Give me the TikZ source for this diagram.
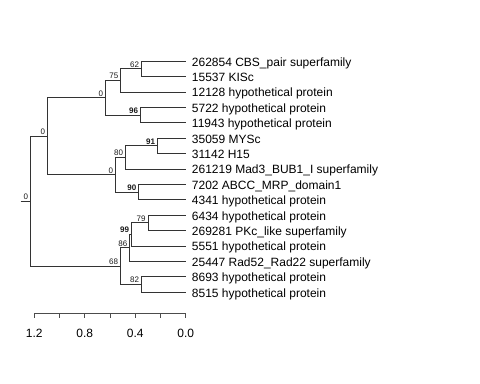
\documentclass[tikz,border=0pt]{standalone}
\usepackage{fontspec}
\setmainfont{Liberation Sans}
\usetikzlibrary{positioning,calc}
\colorlet{treeedge}{black!80}
\colorlet{axisedge}{black!70}

\begin{document}
\begin{tikzpicture}[x=0.75pt, y=-0.75pt,
    br/.style={draw=treeedge, line width=0.75pt},
    tiplab/.style={font=\fontsize{9}{11}\selectfont, anchor=base west, inner sep=0pt},
    nlab/.style={font=\fontsize{6}{7}\selectfont, text=black!90, anchor=south east,
                 inner xsep=1.8pt, inner ysep=1.1pt},
    blab/.style={nlab, font=\fontsize{6}{7}\selectfont\bfseries},
    ticklab/.style={font=\fontsize{9}{11}\selectfont, inner sep=0pt}
  ]
  \useasboundingbox (0,0) rectangle (480,384);
  % tips
  \foreach \i/\txt in {1/262854 CBS\_pair superfamily, 2/15537 KISc,
      3/12128 hypothetical protein, 4/5722 hypothetical protein,
      5/11943 hypothetical protein, 6/35059 MYSc, 7/31142 H15,
      8/261219 Mad3\_BUB1\_I superfamily, 9/7202 ABCC\_MRP\_domain1,
      10/4341 hypothetical protein, 11/6434 hypothetical protein,
      12/269281 PKc\_like superfamily, 13/5551 hypothetical protein,
      14/25447 Rad52\_Rad22 superfamily, 15/8693 hypothetical protein,
      16/8515 hypothetical protein}
    {\coordinate (t\i) at (185.7, {61.3+15.4*(\i-1)});
     \node[tiplab] (l\i) at ([xshift=4.5pt, yshift=-3.6pt]t\i) {\txt};}
  % inner nodes
  \coordinate (stub) at (20.7,201.4);
  \coordinate (root) at (30.7,201.4);
  \coordinate (n0a) at (47.7,136.4);
  \coordinate (n0b) at (105.7,97.9);
  \coordinate (n0c) at (115.7,174.9);
  \coordinate (n75) at (121,80.6);
  \coordinate (n62) at (141.7,69);
  \coordinate (n96) at (140.7,115.2);
  \coordinate (n80) at (125.7,157.6);
  \coordinate (n91) at (157.7,146);
  \coordinate (n90) at (139,192.2);
  \coordinate (n68) at (120.7,266.3);
  \coordinate (n86) at (130,248);
  \coordinate (n99) at (131.7,234.6);
  \coordinate (n79) at (148.3,223);
  \coordinate (n82) at (141.7,284.6);
  \draw[br] (stub) -- (root);
  \foreach \p/\c in {root/n0a, root/n68, n0a/n0b, n0a/n0c, n0b/n75, n0b/n96,
      n75/n62, n75/t3, n62/t1, n62/t2, n96/t4, n96/t5, n0c/n80, n0c/n90,
      n80/n91, n80/t8, n91/t6, n91/t7, n90/t9, n90/t10, n68/n86, n68/n82,
      n86/n99, n86/t14, n99/n79, n99/t13, n79/t11, n79/t12, n82/t15, n82/t16}
    \draw[br] (\p) |- (\c);
  \foreach \n/\s in {root/0, n0a/0, n0b/0, n0c/0, n62/62, n75/75, n80/80,
      n79/79, n86/86, n68/68, n82/82}
    \node[nlab] (lb-\n) at (\n) {\s};
  \foreach \n/\s in {n96/96, n91/91, n90/90, n99/99}
    \node[blab] (lb-\n) at (\n) {\s};
  % scale
  \draw[axisedge, line width=0.75pt] (34.3,313.3) -- (185.7,313.3);
  \foreach \k in {0,...,6}
    \draw[axisedge, line width=0.75pt] ({185.7-25.23*\k},313.3) -- ++(0,5);
  \foreach \k/\v in {0/0.0, 2/0.4, 4/0.8, 6/1.2}
    \node[ticklab] (ax\k) at ({185.7-25.23*\k},333.3) {\v};
\end{tikzpicture}
\end{document}
